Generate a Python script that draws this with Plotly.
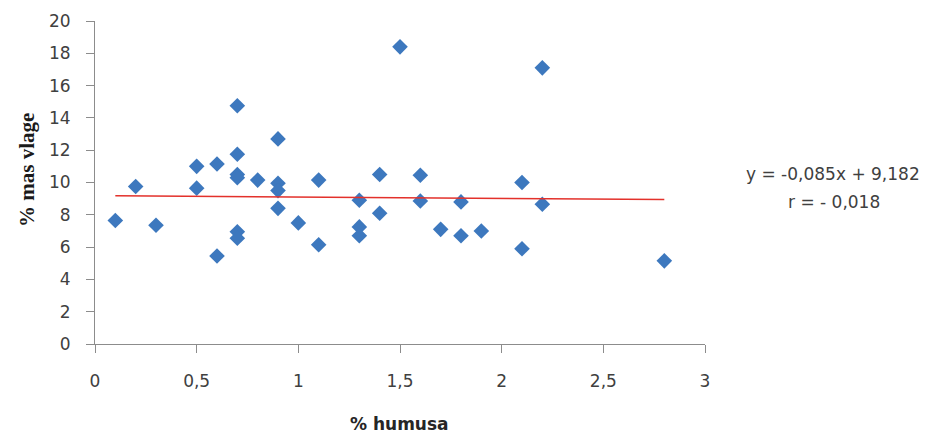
import plotly.graph_objects as go

# Data
humus = [0.1, 0.2, 0.3, 0.5, 0.5, 0.6, 0.6, 0.7, 0.7, 0.7, 0.7, 0.7, 0.7,
         0.8, 0.9, 0.9, 0.9, 0.9, 1.0, 1.1, 1.1, 1.3, 1.3, 1.3, 1.4, 1.4,
         1.5, 1.6, 1.6, 1.7, 1.8, 1.8, 1.9, 2.1, 2.1, 2.2, 2.2, 2.8]
vlaga = [7.65, 9.75, 7.35, 11.0, 9.65, 11.15, 5.45, 14.75, 11.75, 10.5, 10.3, 6.95, 6.55,
         10.15, 12.7, 9.95, 9.5, 8.4, 7.5, 10.15, 6.15, 8.9, 7.25, 6.7, 10.5, 8.1,
         18.4, 10.45, 8.85, 7.1, 8.8, 6.7, 7.0, 10.0, 5.9, 17.1, 8.65, 5.15]

slope = -0.085
intercept = 9.182
trend_x = [0.1, 2.8]
trend_y = [slope * x + intercept for x in trend_x]

x_ticks = [0, 0.5, 1, 1.5, 2, 2.5, 3]
x_tick_labels = ["0", "0,5", "1", "1,5", "2", "2,5", "3"]
y_ticks = [0, 2, 4, 6, 8, 10, 12, 14, 16, 18, 20]

eq_line1 = "y = -0,085x + 9,182"
eq_line2 = "r = - 0,018"
x_title = "% humusa"
y_title = "% mas vlage"

W, H = 926, 433
L, R, T, B = 95, 221, 21, 89
PW, PH = W - L - R, H - T - B


def px_x(px):
    return (px - L) / PW


def px_y(py):
    return (H - B - py) / PH


fig = go.Figure()
fig.add_trace(go.Scatter(
    x=humus, y=vlaga, mode="markers",
    marker=dict(symbol="diamond", size=12, color="#3D78BE", line=dict(width=0)),
    showlegend=False, hoverinfo="x+y"))
fig.add_trace(go.Scatter(
    x=trend_x, y=trend_y, mode="lines",
    line=dict(color="#E3312B", width=1.5), showlegend=False, hoverinfo="skip"))

font_main = "DejaVu Sans, Noto Sans, sans-serif"
tickfont = dict(family=font_main, size=17, color="#404040")

fig.update_layout(
    width=W, height=H,
    margin=dict(l=L, r=R, t=T, b=B, pad=0),
    plot_bgcolor="white", paper_bgcolor="white",
    xaxis=dict(range=[0, 3], tickvals=x_ticks, ticktext=x_tick_labels,
               showgrid=False, zeroline=False, showline=True, linecolor="#8C8C8C",
               linewidth=1, ticks="outside", ticklen=8, tickcolor="#8C8C8C",
               tickfont=tickfont, ticklabelstandoff=14, fixedrange=True),
    yaxis=dict(range=[0, 20], tickvals=y_ticks,
               showgrid=False, zeroline=False, showline=True, linecolor="#8C8C8C",
               linewidth=1, ticks="outside", ticklen=8, tickcolor="#8C8C8C",
               tickfont=tickfont, ticklabelstandoff=12, fixedrange=True),
    annotations=[
        dict(text="<b>" + x_title + "</b>", xref="paper", yref="paper",
             x=px_x(399), y=px_y(424),
             xanchor="center", yanchor="middle", showarrow=False,
             font=dict(family=font_main, size=17, color="#262626")),
        dict(text="<b>" + y_title + "</b>", xref="paper", yref="paper",
             x=px_x(27), y=px_y(170),
             xanchor="center", yanchor="middle", textangle=-90, showarrow=False,
             font=dict(family="Liberation Serif, Times New Roman, serif", size=21, color="#1a1a1a")),
        dict(text=eq_line1, xref="paper", yref="paper",
             x=px_x(833), y=px_y(174),
             xanchor="center", yanchor="middle", showarrow=False,
             font=dict(family=font_main, size=17, color="#404040")),
        dict(text=eq_line2, xref="paper", yref="paper",
             x=px_x(834), y=px_y(202),
             xanchor="center", yanchor="middle", showarrow=False,
             font=dict(family=font_main, size=17, color="#404040")),
    ],
)

fig.write_html("out.html", config={"displayModeBar": False},
               post_script="document.body.style.margin='0';")
